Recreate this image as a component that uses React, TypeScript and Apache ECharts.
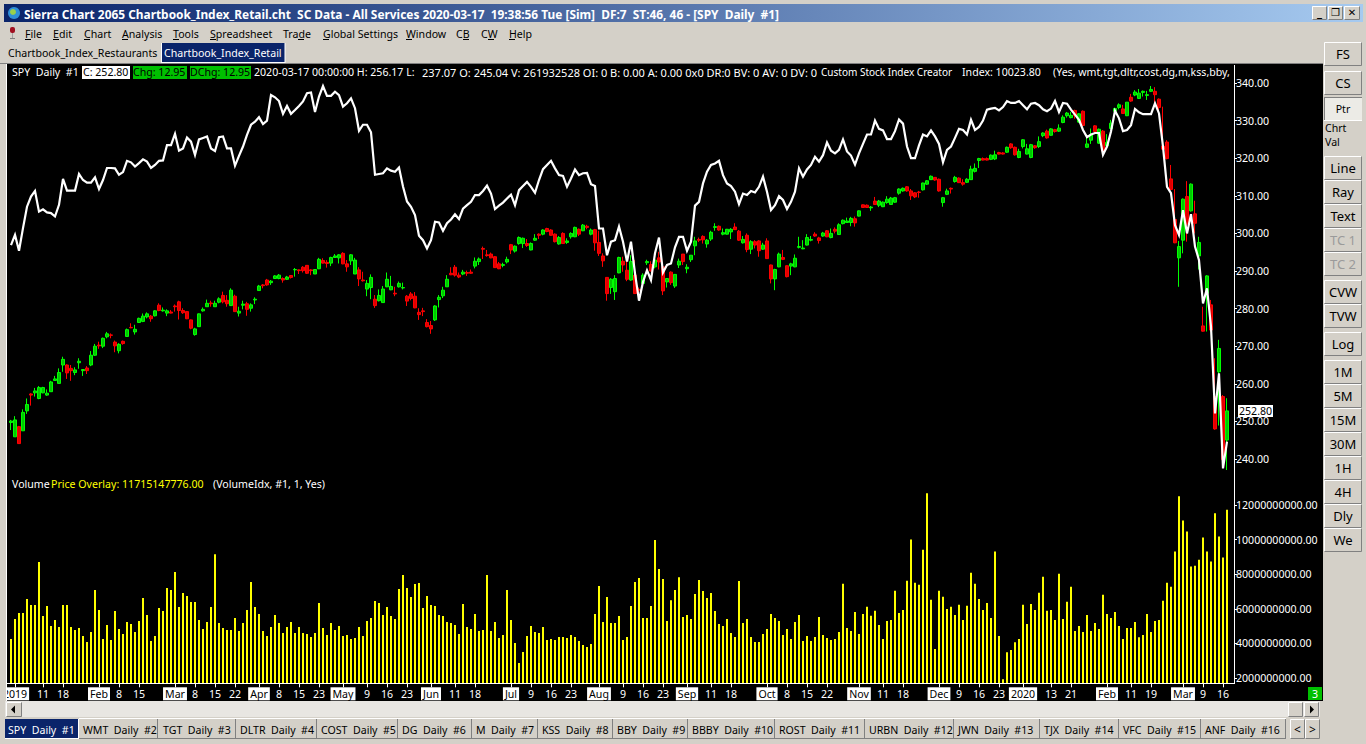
import React, { useEffect, useRef } from "react";
import * as echarts from "echarts";

// [open, close, low, high] per session
const spyOhlc = [
[249.7,250.1,247.7,250.4],[245.9,250.4,245.9,251.4],[248.6,244.1,244.0,248.8],[247.5,252.4,247.5,253.2],[252.8,254.5,252.0,256.1],[257.3,257.0,254.2,257.5],[257.6,258.1,256.6,258.9],[256.1,259.0,255.9,259.4],[257.6,259.0,257.5,259.2],[257.0,257.5,256.8,258.5],
[257.9,260.5,257.9,260.8],[260.9,261.3,260.8,262.1],[260.1,263.0,260.1,264.1],[265.0,266.5,263.2,267.2],[265.0,262.9,261.3,265.2],[264.1,263.5,260.8,265.0],[263.0,263.7,262.3,264.4],[265.6,266.0,264.0,266.8],[263.5,263.8,262.1,263.8],[264.2,263.5,262.6,264.7],
[265.0,267.6,264.7,268.7],[267.6,270.0,267.4,270.6],[270.3,270.1,269.3,271.2],[270.0,272.1,269.5,272.3],[272.5,273.3,272.1,273.8],[273.0,272.9,272.1,273.4],[271.1,270.1,268.4,271.5],[268.8,270.5,268.1,270.8],[271.3,270.7,270.4,271.5],[272.6,274.4,272.5,274.7],
[275.0,274.9,274.8,276.1],[273.8,274.5,273.1,275.7],[276.3,277.4,276.3,277.6],[276.6,278.0,276.4,278.7],[277.8,278.6,277.4,279.0],[278.0,277.3,276.5,278.3],[278.1,279.4,277.9,279.6],[280.9,279.5,279.3,281.4],[279.4,279.6,279.2,280.3],[278.8,279.4,278.0,279.8],
[279.1,278.8,278.7,279.6],[280.7,280.5,279.2,281.1],[281.8,279.5,277.1,282.1],[279.5,278.9,278.6,280.1],[279.2,277.3,277.2,279.3],[277.0,274.8,274.5,277.1],[273.1,274.6,272.8,274.9],[275.2,278.6,275.2,278.7],[279.4,279.8,279.2,280.3],[280.5,281.4,280.5,282.4],
[281.5,281.3,280.5,282.1],[280.5,281.4,280.5,282.1],[281.7,282.6,281.4,283.0],[283.5,281.8,281.4,284.5],[282.2,281.3,280.5,283.6],[280.8,284.9,280.7,285.4],[283.3,279.2,279.2,283.7],[278.8,279.3,277.9,280.5],[280.9,281.2,279.8,282.1],[281.3,279.8,278.1,281.8],
[280.1,281.0,279.2,281.4],[282.3,282.5,281.2,283.0],[284.8,286.0,284.8,286.3],[286.3,286.1,285.4,286.5],[287.6,286.3,286.1,287.9],[286.9,287.3,286.3,287.6],[288.0,288.7,287.9,288.9],[288.0,288.9,287.8,289.2],[288.0,287.6,286.9,288.3],[287.8,288.4,287.6,288.7],
[288.8,288.3,288.0,288.9],[290.3,290.4,288.5,290.8],[290.3,290.1,289.2,290.4],[291.0,290.1,289.6,291.3],[291.5,289.4,289.2,291.6],[290.3,290.1,288.9,290.5],[289.2,290.4,289.2,290.4],[290.6,293.1,290.5,293.5],[292.8,292.1,292.0,293.4],[292.3,292.0,290.9,292.9],
[292.1,293.6,291.3,293.8],[293.6,294.0,293.5,294.5],[293.5,294.3,292.0,294.5],[294.7,291.9,291.8,295.0],[291.9,291.1,289.8,292.9],[292.7,294.3,291.6,294.5],[289.2,292.9,289.2,293.5],[290.3,287.9,286.0,291.0],[287.6,287.4,287.2,289.8],[285.2,286.7,283.3,287.6],
[285.6,288.3,282.5,289.1],[282.5,280.8,280.2,283.6],[282.1,283.5,281.9,285.1],[281.6,285.2,281.6,286.0],[285.8,287.8,285.7,289.6],[285.0,285.9,284.9,288.7],[284.1,283.9,283.3,285.8],[285.8,286.7,285.6,287.2],[285.5,285.6,285.1,286.9],[283.3,282.0,280.7,283.6],
[283.9,282.7,282.2,284.4],[283.3,280.2,280.1,284.4],[279.0,278.4,277.0,280.1],[279.4,279.2,278.0,280.2],[276.3,275.2,275.0,277.2],[275.5,274.6,273.3,276.7],[277.0,280.7,276.7,280.9],[282.4,283.0,280.3,283.6],[283.4,284.9,282.8,285.8],[285.8,287.8,285.8,288.9],
[289.4,289.0,288.9,291.0],[291.0,288.9,288.5,291.6],[288.9,288.4,288.1,289.6],[289.2,289.7,288.9,290.3],[289.6,289.4,288.7,290.1],[289.7,289.4,289.2,290.4],[291.3,292.6,290.7,293.6],[292.5,293.2,291.6,293.6],[296.0,295.8,293.2,296.5],[294.3,294.1,293.8,295.6],
[294.5,293.5,293.4,294.9],[293.8,290.9,290.8,294.0],[291.9,290.6,290.5,292.4],[291.5,291.7,291.0,292.2],[292.4,293.1,292.0,293.8],[297.0,295.6,294.5,297.2],[295.3,296.6,294.9,296.8],[297.3,298.9,297.0,299.2],[297.3,298.7,296.1,298.9],[297.3,296.8,296.4,298.5],
[295.6,297.3,295.5,297.6],[298.2,298.7,298.0,299.8],[299.8,299.5,298.5,300.0],[299.8,300.9,299.5,301.1],[301.3,300.5,300.3,301.5],[300.9,299.5,299.4,301.1],[299.8,297.8,297.6,300.0],[297.2,298.9,297.0,299.3],[300.0,297.3,297.2,300.3],[297.6,298.0,297.2,298.7],
[299.1,300.0,298.6,300.3],[299.1,301.6,299.0,301.8],[301.1,299.8,299.3,301.3],[300.7,302.2,300.6,302.5],[301.9,301.6,301.1,302.3],[299.8,300.9,299.5,301.3],[301.0,297.5,295.4,301.2],[297.6,294.7,294.0,300.7],[294.0,292.7,291.1,294.7],[288.3,284.0,282.1,288.3],
[285.6,287.8,283.9,288.1],[284.5,288.0,282.3,288.9],[289.5,293.6,289.4,293.8],[292.6,291.6,289.8,293.8],[290.2,287.8,287.3,292.9],[287.6,292.5,287.4,294.2],[288.9,284.0,283.9,292.9],[285.1,284.9,284.0,285.6],[286.7,288.9,286.5,289.4],[292.2,292.5,291.6,293.0],
[291.7,290.0,289.9,292.6],[291.1,292.9,290.7,293.3],[293.5,292.4,290.4,295.1],[291.1,284.7,283.6,291.1],[287.1,288.0,285.6,288.0],[289.7,286.9,286.3,289.9],[286.0,289.1,285.5,289.2],[291.6,292.6,290.8,293.3],[294.5,292.5,291.6,294.5],[290.6,291.0,289.4,291.8],
[293.0,294.2,292.4,294.2],[296.7,298.0,294.2,299.1],[298.4,298.2,297.7,298.9],[299.2,298.3,297.3,299.5],[297.2,298.2,296.2,298.5],[298.5,300.3,298.0,300.7],[301.6,301.8,300.7,302.7],[301.9,300.9,300.7,302.1],[299.8,300.2,299.5,301.3],[299.8,301.1,299.7,301.2],
[300.4,301.1,298.5,301.4],[301.7,301.0,300.9,302.7],[300.6,298.2,298.0,300.9],[297.5,298.4,297.3,299.3],[299.5,295.7,295.0,300.0],[295.8,297.8,294.5,298.2],[297.8,296.9,296.0,298.2],[298.0,295.4,293.8,298.2],[295.8,296.9,295.6,297.5],[298.0,293.3,293.2,298.7],
[291.6,287.9,286.7,291.7],[287.9,290.4,284.9,290.6],[291.1,294.5,291.0,294.9],[293.6,293.1,292.9,295.6],[291.4,288.5,288.3,291.5],[291.3,291.9,288.9,292.2],[291.1,293.4,291.0,294.4],[296.3,296.5,296.0,299.1],[295.9,296.1,295.8,298.2],[296.9,298.9,296.8,299.8],
[298.2,298.4,297.9,299.3],[299.8,299.3,299.1,300.3],[298.8,298.1,297.3,299.1],[299.3,300.1,299.1,300.4],[300.7,299.1,299.0,300.9],[298.9,300.0,298.7,301.3],[301.1,300.6,300.0,301.6],[299.7,302.3,299.6,302.7],[302.6,303.5,302.4,303.7],[302.9,303.3,302.8,304.2],
[302.9,304.0,301.9,304.4],[303.9,302.8,301.8,304.5],[304.6,306.0,304.5,306.1],[307.6,306.9,306.8,307.7],[307.5,306.9,306.8,307.7],[306.8,307.0,306.0,307.3],[308.6,307.7,307.6,309.7],[307.5,308.6,307.0,308.9],[307.1,308.3,307.0,308.5],[308.2,309.1,307.9,309.9],
[307.7,309.4,307.6,309.7],[308.3,309.5,308.1,309.7],[310.7,311.8,310.3,312.0],[311.3,312.0,311.1,312.2],[312.4,311.3,311.1,312.6],[311.3,310.0,308.9,311.8],[310.8,309.7,309.4,311.0],[311.0,310.9,309.5,311.3],[311.6,313.4,311.4,313.5],[313.1,314.0,312.9,314.2],
[314.3,315.2,314.2,315.4],[314.9,314.2,314.0,315.0],[314.4,311.3,311.1,314.6],[308.2,309.5,307.1,309.7],[310.4,311.3,310.2,311.9],[312.0,311.8,310.6,312.2],[313.8,314.9,313.5,315.3],[314.7,313.5,313.4,314.9],[313.5,313.1,312.7,314.4],[313.6,314.4,313.4,314.7],
[314.3,317.1,314.2,318.0],[316.5,317.3,316.2,318.6],[319.4,319.9,317.4,320.1],[319.9,319.5,319.4,320.2],[319.9,319.5,319.4,320.2],[319.7,320.8,319.5,321.0],[319.8,320.9,319.5,322.0],[321.5,321.1,321.0,321.7],[321.4,321.1,321.0,321.6],[321.6,322.9,321.4,323.1],
[323.8,322.8,322.5,324.0],[322.9,320.9,320.7,323.1],[320.2,321.8,320.0,322.5],[323.1,324.9,322.6,325.1],[321.1,322.5,321.0,323.8],[320.2,323.6,320.0,323.8],[323.3,322.8,322.5,323.5],[323.1,324.4,322.7,325.8],[326.0,326.7,325.6,326.9],[327.2,325.4,325.2,327.6],
[326.1,327.8,326.0,328.0],[327.6,327.1,326.8,327.8],[327.2,328.0,327.0,329.0],[329.5,330.9,329.3,331.4],[331.3,332.0,330.8,332.3],[330.8,331.4,330.6,332.3],[332.7,331.4,330.5,332.9],[329.6,331.8,329.4,332.0],[332.5,328.7,328.5,332.7],[322.9,323.8,322.7,326.2],
[324.8,326.2,323.8,327.9],[328.6,327.1,326.9,328.8],[324.0,327.7,323.8,327.9],[327.2,321.9,321.7,327.5],[323.3,324.2,323.1,326.4],[327.9,329.3,327.7,330.2],[332.5,333.2,332.3,333.4],[333.5,334.2,333.0,334.6],[333.1,331.9,331.8,334.2],[331.3,334.9,331.2,334.9],
[336.2,335.2,335.0,337.1],[336.8,337.6,336.5,338.1],[335.9,337.3,335.8,338.4],[337.5,337.8,336.4,338.0],[336.7,336.9,335.5,337.9],[337.8,338.3,337.6,339.2],[337.8,336.9,334.6,338.9],[335.7,333.5,331.5,335.9],[323.2,322.4,322.2,333.7],[324.3,319.9,319.7,324.8],
[314.5,311.7,311.5,318.2],[303.7,297.5,297.4,311.8],[293.5,296.5,285.8,298.0],[298.2,309.1,294.7,309.3],[309.8,302.5,297.8,313.9],[306.0,313.1,305.8,313.3],[305.2,302.7,300.0,308.7],[294.0,297.6,290.4,299.1],[275.4,274.0,273.9,280.5],[284.1,288.7,273.9,288.9],
[281.0,274.3,273.9,282.3],[256.6,248.0,247.8,266.8],[263.2,269.4,248.9,271.7],[256.6,239.85,239.7,257.0],[245.04,252.8,237.07,256.17],
];

// Custom Stock Index overlay, expressed on the price scale
const indexOverlay = [
296.9,299.6,295.4,301.4,307.1,309.8,311.3,305.8,306.4,305.6,305.4,304.5,307.6,314.5,311.4,311.4,311.4,315.8,314.2,313.5,
313.5,314.9,311.8,314.2,317.4,317.4,317.3,315.6,316.3,319.3,318.9,317.8,318.7,319.7,319.1,317.4,318.2,319.3,319.4,323.5,
323.5,326.5,322.0,322.6,325.5,324.4,320.9,325.0,325.4,325.8,322.6,321.9,325.6,325.8,322.6,322.6,318.0,320.6,323.1,326.2,
328.9,329.7,330.9,329.1,330.0,336.8,336.2,335.2,331.8,333.9,331.8,332.8,333.9,335.1,337.3,337.5,332.3,336.4,339.2,336.6,
336.6,337.7,336.8,333.7,334.6,335.9,333.3,327.3,328.9,328.9,326.9,315.6,315.8,316.0,317.3,316.7,316.4,317.5,312.5,308.5,
307.1,304.9,299.4,298.2,296.0,298.2,303.1,302.9,300.7,302.7,303.7,305.1,303.8,306.6,307.5,308.4,310.2,310.2,311.3,312.7,
310.6,306.5,307.4,308.2,309.3,310.3,307.5,311.5,312.6,313.7,312.4,310.8,314.2,317.1,318.2,319.3,317.3,315.5,315.3,312.4,
314.6,317.0,315.5,316.0,316.1,313.1,312.6,301.3,301.3,294.2,297.8,298.2,301.8,297.8,292.5,297.8,289.4,282.1,287.1,290.2,
287.6,294.7,298.9,289.6,291.6,292.0,296.3,299.1,299.1,295.4,297.8,307.4,308.4,313.3,316.4,318.2,318.6,319.3,315.5,313.3,
312.6,311.1,307.8,310.6,310.2,311.3,310.9,312.4,315.1,311.1,306.2,307.5,309.9,308.9,306.5,308.4,311.1,317.3,315.1,317.0,
318.2,320.4,319.1,320.8,324.2,322.0,321.3,322.2,325.0,321.8,320.7,318.3,321.3,323.8,326.3,326.3,330.0,327.8,327.4,325.1,
325.1,327.2,330.3,329.2,323.1,320.0,320.0,323.4,326.3,325.8,327.4,325.8,323.8,318.9,322.2,323.1,325.4,327.8,327.5,326.3,
330.2,327.5,328.3,330.0,332.9,333.2,333.4,332.7,333.6,335.2,334.7,334.7,335.2,334.1,333.0,334.5,334.7,334.1,333.0,332.5,
333.2,335.2,332.3,334.7,334.5,332.9,331.6,330.2,327.5,325.6,326.3,326.7,326.7,320.9,323.1,327.1,332.6,330.6,327.2,327.5,
328.8,333.1,332.2,331.7,331.7,331.7,334.6,331.9,323.1,312.4,310.7,302.2,299.6,306.2,300.0,305.1,296.5,292.9,281.4,285.4,
275.2,252.1,262.8,237.5,244.6,
];

// Volume in billions
const volumeBn = [
4.25,5.41,5.75,5.75,6.56,6.22,6.22,8.70,5.58,6.16,5.00,5.35,4.94,6.22,6.22,4.94,4.77,4.89,4.42,4.08,
4.65,7.08,5.93,4.25,5.06,4.19,5.87,4.83,4.54,5.23,5.12,4.65,5.29,6.62,5.64,4.13,4.42,6.04,5.87,7.20,
7.08,8.12,6.10,6.91,6.74,6.39,6.39,5.35,4.83,5.23,6.10,9.16,5.18,4.89,4.77,4.77,5.46,4.71,5.18,5.93,
7.55,6.10,5.70,4.71,4.42,4.94,5.64,5.18,4.60,4.94,5.23,4.60,4.94,4.60,4.54,4.37,4.60,6.33,4.89,4.48,
5.18,4.77,5.00,4.42,4.48,4.25,4.31,4.94,4.42,5.29,5.46,6.45,6.33,5.64,6.10,5.58,5.41,7.14,7.95,7.20,
6.68,7.43,7.49,
6.04,6.74,6.22,6.16,5.64,5.58,5.23,5.18,5.06,4.54,6.27,4.94,4.83,5.70,4.71,4.77,7.95,4.71,5.23,4.31,
4.48,7.08,5.35,4.02,2.86,3.50,4.42,5.00,4.65,4.60,4.94,4.19,4.25,4.19,4.37,4.37,4.31,4.48,4.37,4.13,
3.90,3.79,3.96,5.70,7.31,5.23,6.68,5.18,5.18,5.58,4.19,4.37,6.16,7.55,7.78,5.46,5.46,6.16,9.97,8.30,
7.72,5.29,6.50,7.08,7.83,5.52,5.64,5.41,6.85,7.66,7.03,6.62,6.91,5.87,5.12,5.00,5.41,4.60,4.37,7.60,
5.18,5.41,4.37,4.08,4.08,4.54,4.83,5.70,5.46,5.29,4.48,4.83,4.25,5.23,5.64,4.13,4.42,4.13,4.37,5.52,
4.48,4.31,4.19,4.25,4.65,
7.45,4.89,4.71,5.82,4.54,5.70,6.11,5.59,5.88,5.06,4.25,5.29,5.35,7.04,5.76,5.93,7.62,10.00,7.50,7.39,
9.42,12.68,6.52,3.67,7.04,6.69,5.99,6.11,5.64,6.23,5.35,6.17,8.09,7.45,6.57,5.93,6.34,5.47,9.31,4.42,
1.92,3.49,3.61,4.07,4.25,6.23,5.12,6.28,5.93,6.92,7.85,5.88,5.93,5.35,8.03,5.41,6.40,7.27,4.71,5.00,
4.65,5.64,4.71,5.18,4.83,6.81,5.70,5.47,5.82,5.00,4.25,4.89,4.89,5.24,4.36,4.48,5.70,4.65,5.29,5.35,
6.46,7.50,7.27,9.31,12.51,11.11,10.47,8.44,8.49,8.84,10.12,9.31,8.73,11.52,10.18,8.96,11.72,
];

const marketHolidays = ["2019-01-01","2019-01-21","2019-02-18","2019-04-19","2019-05-27","2019-07-04","2019-09-02","2019-11-28","2019-12-25","2020-01-01","2020-01-20","2020-02-17"];
const firstSession = "2018-12-31";
const sessionCount = volumeBn.length;

const tickDates = ["2019-01-02","2019-01-11","2019-01-18","2019-02-01","2019-02-08","2019-02-15","2019-03-01","2019-03-08","2019-03-15","2019-03-22","2019-04-01","2019-04-08","2019-04-15","2019-04-23","2019-05-01","2019-05-09","2019-05-16","2019-05-23","2019-06-03","2019-06-11","2019-06-18","2019-07-01","2019-07-09","2019-07-16","2019-07-23","2019-08-01","2019-08-09","2019-08-16","2019-08-23","2019-09-03","2019-09-11","2019-09-18","2019-10-01","2019-10-08","2019-10-15","2019-10-22","2019-11-01","2019-11-11","2019-11-18","2019-12-02","2019-12-09","2019-12-16","2019-12-23","2020-01-02","2020-01-13","2020-01-21","2020-02-03","2020-02-11","2020-02-19","2020-03-02","2020-03-09","2020-03-16"];
const tickLabels = ["2019","11","18","Feb","8","15","Mar","8","15","22","Apr","8","15","23","May","9","16","23","Jun","11","18","Jul","9","16","23","Aug","9","16","23","Sep","11","18","Oct","8","15","22","Nov","11","18","Dec","9","16","23","2020","13","21","Feb","11","19","Mar","9","16"];

const priceTicks = [240,250,260,270,280,290,300,310,320,330,340];
const volumeTicks = [2e9,4e9,6e9,8e9,10e9,12e9];

const menuItems: [string, number, number][] = [["File",25,0],["Edit",53,0],["Chart",84,0],["Analysis",122,0],["Tools",173,0],["Spreadsheet",210,0],["Trade",283,15],["Global Settings",323,0],["Window",406,0],["CB",456,7],["CW",481,7],["Help",509,0]];
const sideButtons: [string, number, boolean][] = [["FS",54,false],["CS",83,false],["Line",168,false],["Ray",192,false],["Text",216,false],["TC 1",240,true],["TC 2",264,true],["CVW",292,false],["TVW",316,false],["Log",344,false],["1M",372,false],["5M",396,false],["15M",420,false],["30M",444,false],["1H",468,false],["4H",492,false],["Dly",516,false],["We",540,false]];
const chartTabs: [string, number, number][] = [["WMT  Daily  #2",80,157],["TGT  Daily  #3",160,235],["DLTR  Daily  #4",237,316],["COST  Daily  #5",318,397],["DG  Daily  #6",399,471],["M  Daily  #7",473,537],["KSS  Daily  #8",539,612],["BBY  Daily  #9",614,687],["BBBY  Daily  #10",689,774],["ROST  Daily  #11",776,864],["URBN  Daily  #12",866,953],["JWN  Daily  #13",955,1039],["TJX  Daily  #14",1041,1118],["VFC  Daily  #15",1120,1200],["ANF  Daily  #16",1202,1285]];

const FACE = "#d4d0c8";
const UI = '"Noto Sans"';
const FS = 10.6;

function buildSessions(): string[] {
  const out: string[] = [];
  const d = new Date(firstSession + "T00:00:00Z");
  while (out.length < sessionCount) {
    const s = d.toISOString().slice(0, 10);
    const w = d.getUTCDay();
    if (w !== 0 && w !== 6 && !marketHolidays.includes(s)) out.push(s);
    d.setUTCDate(d.getUTCDate() + 1);
  }
  return out;
}

function txt(text: string, x: number, y: number, size: number, fill: string, opts: any = {}) {
  const { weight, align, z, family } = opts;
  return {
    type: "text", z: z ?? 60, silent: true,
    style: {
      text, x, y, fill,
      font: `${weight ?? "normal"} ${size}px ${family ?? UI}`,
      align: align ?? "left", textAlign: align ?? "left",
      verticalAlign: "middle", textVerticalAlign: "middle",
    },
  };
}
function box(x: number, y: number, w: number, h: number, fill: any, z = 55) {
  return { type: "rect", z, silent: true, shape: { x, y, width: w, height: h }, style: { fill } };
}
function ln(x1: number, y1: number, x2: number, y2: number, stroke: string, z = 56, lineWidth = 1) {
  return { type: "line", z, silent: true, shape: { x1, y1, x2, y2 }, style: { stroke, lineWidth } };
}
function raised(x: number, y: number, w: number, h: number, fill = FACE) {
  return [
    box(x, y, w, h, fill),
    ln(x + 0.5, y + 0.5, x + w - 0.5, y + 0.5, "#ffffff"),
    ln(x + 0.5, y + 0.5, x + 0.5, y + h - 0.5, "#ffffff"),
    ln(x + 0.5, y + h - 0.5, x + w - 0.5, y + h - 0.5, "#808080"),
    ln(x + w - 0.5, y + 0.5, x + w - 0.5, y + h - 0.5, "#808080"),
  ];
}

function chrome(): any[] {
  const g: any[] = [];
  g.push(box(7, 64, 1316, 637, "#000000", -5));
  g.push(box(0, 64, 6, 637, FACE, 50));
  g.push(ln(6.5, 64, 6.5, 701, "#ffffff", 50));
  g.push(ln(0, 63.5, 1323, 63.5, "#808080", 50));
  g.push(ln(1234.5, 65, 1234.5, 684, "#ffffff", 6));
  g.push(ln(7, 683.5, 1235, 683.5, "#ffffff", 6));

  g.push(box(0, 0, 1366, 4, FACE), box(1363, 0, 3, 744, FACE));
  g.push(box(4, 4, 1359, 18, new echarts.graphic.LinearGradient(0, 0, 1, 0, [{ offset: 0, color: "#0a246a" }, { offset: 1, color: "#a6caf0" }])));
  g.push({ type: "circle", z: 57, silent: true, shape: { cx: 14, cy: 13, r: 6 }, style: { fill: "#2f8fd8" } });
  g.push({ type: "circle", z: 58, silent: true, shape: { cx: 13, cy: 12, r: 3 }, style: { fill: "#9ad04a" } });
  g.push(txt("Sierra Chart 2065 Chartbook_Index_Retail.cht  SC Data - All Services 2020-03-17  19:38:56 Tue [Sim]  DF:7  ST:46, 46 - [SPY  Daily  #1]", 24, 14, 11.9, "#ffffff", { weight: "bold" }));
  for (const [x, w, label] of [[1312, 15, "_"], [1328, 15, "❐"], [1344, 16, "✕"]] as [number, number, string][]) {
    g.push(...raised(x, 6, w, 14));
    g.push(txt(label, x + w / 2, 12, 10, "#000000", { align: "center", weight: "bold", family: '"DejaVu Sans"', z: 61 }));
  }

  g.push({ type: "rect", z: 57, silent: true, shape: { x: 10, y: 27, width: 5, height: 6, r: 2 }, style: { fill: "#a01020" } });
  g.push(ln(12.5, 33, 12.5, 38, "#a0a0a0", 57), ln(10, 38.5, 15, 38.5, "#808080", 57));
  for (const [m, x, u] of menuItems) {
    g.push(txt(m, x, 34, FS, "#000000"));
    g.push(ln(x + u, 39.5, x + u + 6, 39.5, "#000000", 57));
  }

  g.push(txt("Chartbook_Index_Restaurants", 8, 53, FS, "#000000"));
  g.push(box(161, 43, 124, 20, "#0a246a"));
  g.push(ln(161.5, 43, 161.5, 63, "#ffffff", 57), ln(285, 43, 285, 63, "#ffffff", 57), ln(161, 62.5, 285, 62.5, "#ffffff", 57));
  g.push(txt("Chartbook_Index_Retail", 164, 53, FS, "#ffffff"));

  g.push(txt("SPY  Daily  #1", 12, 72, FS, "#ffffff", { z: 20 }));
  g.push(box(82, 66, 48, 13, "#ffffff", 19), txt("C: 252.80", 83, 72, FS, "#000000", { z: 20 }));
  g.push(box(133, 66, 54, 13, "#00c000", 19), txt("Chg: 12.95", 133, 72, FS, "#000000", { z: 20 }));
  g.push(box(190, 66, 61, 13, "#00c000", 19), txt("DChg: 12.95", 190, 72, FS, "#000000", { z: 20 }));
  g.push(txt("2020-03-17 00:00:00 H: 256.17 L:", 254, 72, FS, "#ffffff", { z: 20 }));
  g.push(txt("237.07 O: 245.04 V: 261932528 OI: 0 B: 0.00 A: 0.00 0x0 DR:0 BV: 0 AV: 0 DV: 0", 422, 72, 11, "#ffffff", { z: 20 }));
  g.push(txt("Custom Stock Index Creator", 821, 72, 10, "#ffffff", { z: 20 }));
  g.push(txt("Index: 10023.80", 962, 72, FS, "#ffffff", { z: 20 }));
  g.push(txt("(Yes, wmt,tgt,dltr,cost,dg,m,kss,bby,", 1053, 72, FS, "#ffffff", { z: 20 }));
  g.push(box(1238, 405, 35, 12, "#ffffff", 19), txt("252.80", 1239, 411, FS, "#000000", { z: 20 }));
  g.push(txt("Volume", 12, 484, FS, "#ffffff", { z: 20 }));
  g.push(txt("Price Overlay: 11715147776.00", 51, 484, FS, "#ffff00", { z: 20 }));
  g.push(txt("(VolumeIdx, #1, 1, Yes)", 213, 484, FS, "#ffffff", { z: 20 }));
  g.push(box(1308, 687, 14, 13, "#00c000", 19), txt("3", 1315, 694, FS, "#ffffff", { z: 20, align: "center" }));

  for (const [label, cy, off] of sideButtons) {
    g.push(...raised(1324, cy - 12, 38, 24));
    g.push(txt(label, 1343, cy, 13, off ? "#9a9a9a" : "#000000", { align: "center", z: 61 }));
  }
  g.push(box(1324, 97, 38, 23, "#ecebe6"), ln(1324, 97.5, 1362, 97.5, "#808080"), ln(1324.5, 97, 1324.5, 120, "#808080"), ln(1324, 120.5, 1362, 120.5, "#ffffff"));
  g.push(txt("Ptr", 1343, 109, FS, "#000000", { align: "center", z: 61 }));
  g.push(txt("Chrt", 1325, 128, FS, "#000000"), txt("Val", 1325, 142, FS, "#000000"));

  g.push(box(5, 701, 1315, 16, "#e8e6e2", 54));
  g.push(...raised(6, 702, 16, 15));
  g.push({ type: "polygon", z: 60, silent: true, shape: { points: [[11, 709.5], [15, 705.5], [15, 713.5]] }, style: { fill: "#000" } });
  g.push(...raised(1288, 702, 15, 15), ...raised(1304, 702, 15, 15));
  g.push({ type: "polygon", z: 60, silent: true, shape: { points: [[1314, 709.5], [1310, 705.5], [1310, 713.5]] }, style: { fill: "#000" } });

  g.push(box(5, 719, 73, 20, "#0a246a"));
  g.push(ln(5, 738.5, 79, 738.5, "#ffffff", 57), ln(78.5, 719, 78.5, 739, "#ffffff", 57));
  g.push(txt("SPY  Daily  #1", 8, 730, FS, "#ffffff"));
  for (const [label, a, b] of chartTabs) {
    g.push(ln(b + 0.5, 719, b + 0.5, 739, "#808080", 57));
    g.push(txt(label, a + 3, 730, FS, "#000000"));
  }
  g.push(ln(79, 718.5, 1286, 718.5, "#ffffff", 57), ln(79, 738.5, 1286, 738.5, "#808080", 57));
  g.push(...raised(1290, 719, 15, 20), ...raised(1305, 719, 15, 20));
  g.push(txt("<", 1297.5, 729, 12, "#000000", { align: "center", z: 61 }), txt(">", 1312.5, 729, 12, "#000000", { align: "center", z: 61 }));
  return g;
}

export default function App() {
  const ref = useRef<HTMLDivElement>(null);
  useEffect(() => {
    document.body.style.margin = "0";
    const chart = echarts.init(ref.current!, undefined, { renderer: "svg", width: 1366, height: 744 });
    const sessions = buildSessions();
    const tickMap = new Map(tickDates.map((d, i) => [d, tickLabels[i]]));
    const isTick = (_: number, v: string) => tickMap.has(v);

    chart.setOption({
      animation: false,
      backgroundColor: FACE,
      textStyle: { fontFamily: UI },
      grid: [
        { left: 9, top: 65, width: 1220, height: 411, outerBoundsMode: "none" },
        { left: 9, top: 486, width: 1220, height: 197.3, outerBoundsMode: "none" },
      ],
      xAxis: [
        { type: "category", gridIndex: 0, data: sessions, show: false },
        {
          type: "category", gridIndex: 1, data: sessions,
          axisLine: { show: false },
          axisTick: { show: true, interval: isTick, alignWithLabel: true, length: 4, lineStyle: { color: "#fff", width: 1 } },
          axisLabel: {
            interval: isTick, margin: 4, color: "#fff", fontSize: FS, fontFamily: UI, hideOverlap: false,
            alignMinLabel: "center", alignMaxLabel: "center",
            formatter: (v: string) => {
              const t = tickMap.get(v) ?? "";
              return /^\d{1,2}$/.test(t) ? `{d|${t}}` : `{m|${t}}`;
            },
            rich: {
              d: { color: "#fff", fontSize: FS, fontFamily: UI, lineHeight: 13, height: 13 },
              m: { color: "#000", backgroundColor: "#fff", fontSize: FS, fontFamily: UI, lineHeight: 13, height: 13, padding: [0, 2, 0, 2] },
            },
          },
        },
      ],
      yAxis: [
        {
          type: "value", gridIndex: 0, position: "right", offset: 5, min: 235.48, max: 344.79,
          splitLine: { show: false }, axisLine: { show: false },
          axisTick: { show: true, length: 3, customValues: priceTicks, lineStyle: { color: "#fff" } },
          axisLabel: { customValues: priceTicks, margin: 2, color: "#fff", fontSize: FS, fontFamily: UI, formatter: (v: number) => v.toFixed(2) },
        },
        {
          type: "value", gridIndex: 1, position: "right", offset: 5, min: 1.69e9, max: 13.1e9,
          splitLine: { show: false }, axisLine: { show: false },
          axisTick: { show: true, length: 3, customValues: volumeTicks, lineStyle: { color: "#fff" } },
          axisLabel: { customValues: volumeTicks, margin: 2, color: "#fff", fontSize: FS, fontFamily: UI, formatter: (v: number) => v.toFixed(2) },
        },
      ],
      series: [
        {
          name: "SPY", type: "candlestick", xAxisIndex: 0, yAxisIndex: 0, data: spyOhlc, barWidth: 3, silent: true,
          itemStyle: { color: "#00c800", color0: "#e00000", borderColor: "#00ff00", borderColor0: "#ff0000", borderWidth: 1 },
        },
        {
          name: "Custom Stock Index", type: "line", xAxisIndex: 0, yAxisIndex: 0, data: indexOverlay, showSymbol: false, silent: true,
          lineStyle: { color: "#ffffff", width: 2.2, join: "miter" }, z: 4,
        },
        {
          name: "Volume", type: "bar", xAxisIndex: 1, yAxisIndex: 1, data: volumeBn.map((v) => v * 1e9), barWidth: 2, silent: true,
          itemStyle: { color: "#ffff00" },
        },
      ],
      graphic: { elements: chrome() },
    });
    return () => chart.dispose();
  }, []);
  return <div ref={ref} style={{ width: 1366, height: 744 }} />;
}
